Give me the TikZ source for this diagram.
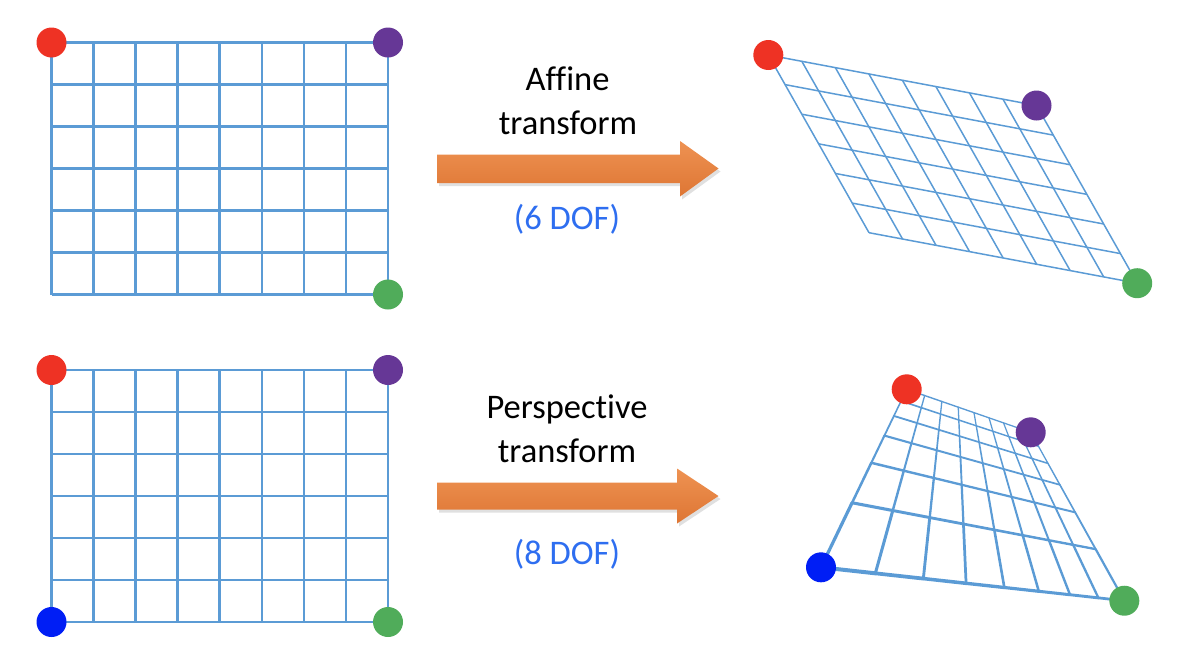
\documentclass[tikz,border=0pt]{standalone}
\usepackage{fontspec}
\setmainfont[Ligatures=CommonOff]{Carlito}
\usetikzlibrary{calc}
\definecolor{gridblue}{RGB}{91,155,213}
\definecolor{dotred}{RGB}{238,50,36}
\definecolor{dotpurple}{RGB}{102,55,150}
\definecolor{dotgreen}{RGB}{80,172,90}
\definecolor{dotblue}{RGB}{0,30,245}
\definecolor{arrowtop}{RGB}{238,146,82}
\definecolor{arrowbot}{RGB}{222,118,52}
\definecolor{dofblue}{RGB}{46,110,240}
% homography of the unit square onto the perspective quad
\newcommand\perspcoord[3]{%
  \pgfmathsetmacro\hw{1+0.18562*#1-0.64845*#2}%
  \pgfmathsetmacro\hx{906.7+(147.017*#1-30.128*#2)/\hw}%
  \pgfmathsetmacro\hy{389.3+(50.982*#1+62.576*#2)/\hw}%
  \coordinate (#3) at (\hx,\hy);%
}
\begin{document}
\begin{tikzpicture}[x=1pt,y=-1pt,
  sqgrid/.style={draw=gridblue, line width=2.5pt},
  affgrid/.style={draw=gridblue, line width=1.5pt},
  pgrid/.style={draw=gridblue, line cap=round},
  dot/.style={circle, inner sep=0pt, minimum size=30pt, draw=none},
  lbl/.style={anchor=base, inner sep=0pt, font=\fontsize{34.5}{43}\selectfont},
  doflbl/.style={lbl, text=dofblue},
  blockarrow/.style={top color=arrowtop, bottom color=arrowbot},
  arrowshadow/.style={fill=black, opacity=0.12}]
\useasboundingbox (0,0) rectangle (1198,654);

% ---------- left square grids ----------
\foreach \oy in {0,327.5}{
  \foreach \i in {0,...,8}{
    \draw[sqgrid] ({51.5+42.06*\i},{42.5+\oy}) -- ({51.5+42.06*\i},{294.5+\oy});
  }
  \foreach \j in {0,...,6}{
    \draw[sqgrid] (51.5,{42.5+42*\j+\oy}) -- (388,{42.5+42*\j+\oy});
  }
}

% ---------- affine grid ----------
\coordinate (aTL) at (768.3,55);
\coordinate (aTR) at (1036.5,105.5);
\coordinate (aBL) at (869,232.7);
\coordinate (aBR) at (1137.2,283.2);
\foreach \i in {0,...,8}{
  \draw[affgrid] ($(aTL)!\i/8!(aTR)$) -- ($(aBL)!\i/8!(aBR)$);
}
\foreach \j in {0,...,6}{
  \draw[affgrid] ($(aTL)!\j/6!(aBL)$) -- ($(aTR)!\j/6!(aBR)$);
}

% ---------- perspective grid ----------
\foreach \i in {0,...,8}{
  \foreach \j in {0,...,6}{
    \perspcoord{\i/8}{\j/6}{P\i-\j}
  }
}
\foreach \j in {0,...,6}{
  \foreach \i in {0,...,7}{
    \pgfmathtruncatemacro\ni{\i+1}
    \pgfmathsetmacro\lw{1.45/(1+0.18562*(\i+0.5)/8-0.64845*\j/6)}
    \draw[pgrid, line width=\lw pt] (P\i-\j) -- (P\ni-\j);
  }
}
\foreach \i in {0,...,8}{
  \foreach \j in {0,...,5}{
    \pgfmathtruncatemacro\nj{\j+1}
    \pgfmathsetmacro\lw{1.3/(1+0.18562*\i/8-0.64845*(\j+0.5)/6)}
    \draw[pgrid, line width=\lw pt] (P\i-\j) -- (P\i-\nj);
  }
}

% ---------- block arrows ----------
\fill[arrowshadow] (439,157.5) -- (682,157.5) -- (682,144) -- (720.5,171.5) -- (682,199.5) -- (682,186) -- (439,186) -- cycle;
\shade[blockarrow] (437,154.5) -- (680,154.5) -- (680,141) -- (718.5,168.5) -- (680,196.5) -- (680,183) -- (437,183) -- cycle;
\fill[arrowshadow] (439,485.5) -- (679,485.5) -- (679,471.5) -- (720.5,499) -- (679,526.5) -- (679,512.5) -- (439,512.5) -- cycle;
\shade[blockarrow] (437,482.5) -- (677,482.5) -- (677,468.5) -- (718.5,496) -- (677,523.5) -- (677,509.5) -- (437,509.5) -- cycle;

% ---------- labels ----------
\node[lbl] (affA) at (567.5,90.7) {Affine};
\node[lbl] (affB) at (568,134) {transform};
\node[doflbl] (affC) at (567,229) {(6 DOF)};
\node[lbl] (perA) at (567,418.3) {Perspective};
\node[lbl] (perB) at (567,462.5) {transform};
\node[doflbl] (perC) at (567,564) {(8 DOF)};

% ---------- corner dots ----------
\node[dot, fill=dotred] (sq1r) at (51.5,42.5) {};
\node[dot, fill=dotpurple] (sq1p) at (388,42.5) {};
\node[dot, fill=dotgreen] (sq1g) at (388,294.5) {};
\node[dot, fill=dotred] (sq2r) at (51.5,370) {};
\node[dot, fill=dotpurple] (sq2p) at (388,370) {};
\node[dot, fill=dotgreen] (sq2g) at (388,622) {};
\node[dot, fill=dotblue] (sq2b) at (51.5,622) {};
\node[dot, fill=dotred] (afr) at (aTL) {};
\node[dot, fill=dotpurple] (afp) at (aTR) {};
\node[dot, fill=dotgreen] (afg) at (aBR) {};
\node[dot, fill=dotred] (pr) at (P0-0) {};
\node[dot, fill=dotpurple] (pp) at (P8-0) {};
\node[dot, fill=dotgreen] (pg) at (P8-6) {};
\node[dot, fill=dotblue] (pb) at (P0-6) {};
\end{tikzpicture}
\end{document}
